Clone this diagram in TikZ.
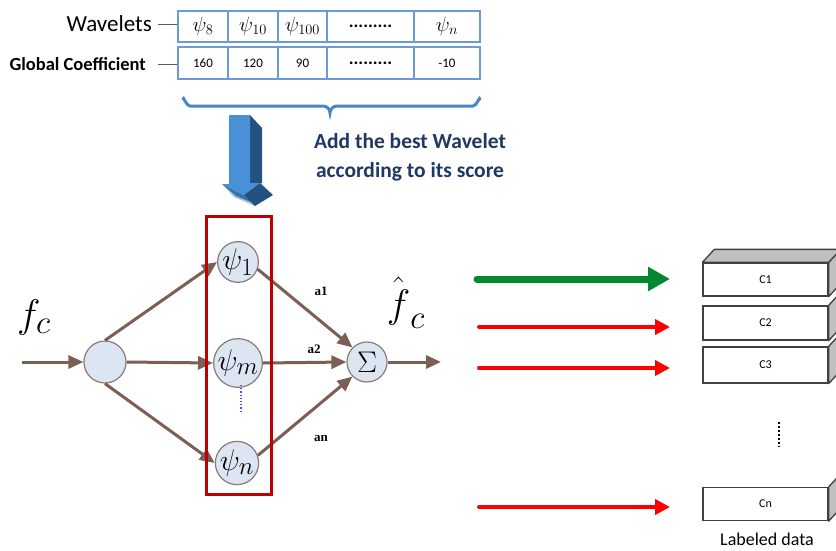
\documentclass[tikz,border=0pt]{standalone}
\usepackage{graphicx}
\usepackage{fontspec}
\setmainfont{Carlito}
\newfontfamily\serifface{Liberation Serif}
\usetikzlibrary{arrows.meta,calc}

\definecolor{cellblue}{HTML}{6A9BD8}
\definecolor{bracecol}{HTML}{4A86C5}
\definecolor{navy}{HTML}{1F3864}
\definecolor{linkbrown}{HTML}{7B5F55}
\definecolor{nodefill}{HTML}{DCE6F2}
\definecolor{nodeedge}{HTML}{8C7A76}
\definecolor{framered}{HTML}{C00000}
\definecolor{greenarrow}{HTML}{00892F}
\definecolor{redarrow}{HTML}{FF0000}
\definecolor{facegray}{HTML}{C0C0C0}
\definecolor{edgegray}{HTML}{404040}
\definecolor{arrowfront}{HTML}{4A90D6}
\definecolor{arrowside}{HTML}{24527E}
\definecolor{arrowlight}{HTML}{9CC4EC}

% enlarged math symbol inside a circle
\newcommand{\bigsym}[1]{\scalebox{1.2}{$#1$}}

\tikzset{
  cell/.style={draw=cellblue, line width=1.3pt, inner sep=0pt, anchor=center},
  rowone/.style={cell, minimum height=31pt, font=\fontsize{20.74}{22}\selectfont},
  rowtwo/.style={cell, minimum height=32pt, font=\fontsize{13}{15}\selectfont},
  rowlabel/.style={anchor=east, inner sep=0pt},
  neuron/.style={circle, fill=nodefill, draw=nodeedge, line width=1.2pt,
    minimum size=40pt, inner sep=0pt, font=\fontsize{24.88}{28}\selectfont},
  link/.style={draw=linkbrown, line width=3pt,
    -{Triangle[length=15pt,width=13pt]}},
  weight/.style={font=\serifface\bfseries\fontsize{13}{14}\selectfont, inner sep=0pt},
  databox/.style={draw=edgegray, line width=1.3pt, fill=white,
    minimum width=125pt, minimum height=33pt, inner sep=0pt,
    font=\fontsize{12}{14}\selectfont},
  sideface/.style={fill=facegray, draw=edgegray, line width=1.3pt, line join=round},
  goodarrow/.style={draw=greenarrow, line width=7pt, line cap=round,
    -{Triangle[length=22pt,width=23pt]}},
  badarrow/.style={draw=redarrow, line width=4pt, line cap=round,
    -{Triangle[length=15pt,width=15pt]}},
  bigmath/.style={font=\fontsize{24.88}{28}\selectfont, scale=1.6, inner sep=0pt},
}

\begin{document}
\begin{tikzpicture}[x=1pt,y=-1pt]
\useasboundingbox (0,0) rectangle (836,550);
\clip (0,0) rectangle (836,550);
\fill[white] (0,0) rectangle (836,550);

% ---- wavelet table ----
\node[rowone, minimum width=50pt] (w1) at (203,26.5) {$\psi_{8}$};
\node[rowone, minimum width=50pt] (w2) at (253,26.5) {$\psi_{10}$};
\node[rowone, minimum width=49pt] (w3) at (302.5,26.5) {$\psi_{100}$};
\node[rowone, minimum width=87pt] (w4) at (370.5,26.5) {\fontsize{18}{20}\selectfont\bfseries .........};
\node[rowone, minimum width=66pt] (w5) at (447,26.5) {$\psi_{n}$};

\node[rowtwo, minimum width=50pt] (g1) at (203,63) {160};
\node[rowtwo, minimum width=50pt] (g2) at (253,63) {120};
\node[rowtwo, minimum width=49pt] (g3) at (302.5,63) {90};
\node[rowtwo, minimum width=87pt] (g4) at (370.5,63) {\fontsize{18}{20}\selectfont\bfseries .........};
\node[rowtwo, minimum width=66pt] (g5) at (447,63) {-10};

\node[rowlabel, font=\fontsize{23}{25}\selectfont] (wl) at (152,24) {Wavelets};
\node[rowlabel, font=\bfseries\fontsize{18.5}{20}\selectfont] (gl) at (146,64) {Global Coefficient};
\draw[gray!70!black, line width=1pt] ($(wl.east)+(6,0)$) -- (w1.west |- wl.east);
\draw[gray!70!black, line width=1pt] ($(gl.east)+(12,0)$) -- (g1.west |- gl.east);

% ---- brace under the table ----
\draw[bracecol, line width=3pt, line cap=round]
  (183,99) to[out=90,in=180] (190,106) -- (323,106)
  to[out=0,in=90] (330,113) to[out=90,in=180] (337,106)
  -- (473,106) to[out=0,in=90] (480,99);

% ---- 3D block arrow ----
\fill[arrowside] (250,115) -- (262,128) -- (262,183) -- (250,183) -- cycle;
\fill[arrowfront] (229,115) -- (250,115) -- (250,183) -- (260,183)
  -- (244,195) -- (222,184) -- (229,184) -- cycle;
\fill[arrowlight] (222,184) -- (244,195) -- (255,206) -- (234,197) -- cycle;
\fill[arrowfront!80!black] (222,184) -- (244,195) -- (253,203) -- (236,196) -- cycle;
\fill[arrowside] (244,195) -- (260,183) -- (273,195) -- (255,206) -- cycle;

\node[font=\bfseries\fontsize{21.5}{29}\selectfont, text=navy, align=center]
  (caption) at (410,157) {Add the best Wavelet\\according to its score};

% ---- wavelet network ----
\coordinate (fin) at (22,362);
\coordinate (fout) at (441,362);
\node[neuron, minimum size=42pt] (inp) at (105,362) {};
\node[neuron] (p1) at (238,262) {\bigsym{\psi_{1}}};
\node[neuron] (pm) at (238,363) {\bigsym{\psi_{m}}};
\node[neuron] (pn) at (237,463) {\bigsym{\psi_{n}}};
\node[neuron] (sig) at (367,362) {\bigsym{\Sigma}};

\draw[link] (fin) -- (inp.west);
\draw[link] (inp.north) -- (p1.west);
\draw[link] (inp.east) -- (pm.west);
\draw[link] (inp.south) -- (pn.west);
\draw[link] (p1.-20) -- (sig.135);
\draw[link] (pm.east) -- (sig.west);
\draw[link] (pn.20) -- (sig.-135);
\draw[link] (sig.east) -- (fout);

\node[weight] (a1) at (321,291) {a1};
\node[weight] (a2) at (314,349) {a2};
\node[weight] (an) at (321,438) {an};

\node[bigmath] (fc) at (34,318) {$f_c$};
\node[bigmath] (fhat) at (406,303) {$\hat{\vphantom{\big|}f}_c$};

\coordinate (dtop) at (241,385);
\coordinate (dbot) at (241,412);
\draw[blue!70, line width=1.2pt, dotted] (dtop) -- (dbot);

\draw[framered, line width=3pt] (206,216) rectangle (271,494);

% ---- labeled data stack ----
\node[databox] (cn) at (765.5,504) {Cn};
\draw[sideface] (cn.north east) -- ++(12,-13) -- ($(cn.south east)+(12,-13)$) -- (cn.south east) -- cycle;
\node[databox, minimum height=36pt] (c3) at (765.5,365) {C3};
\draw[sideface] (c3.north east) -- ++(12,-13) -- ($(c3.south east)+(12,-13)$) -- (c3.south east) -- cycle;
\node[databox, minimum height=34pt] (c2) at (765.5,323) {C2};
\draw[sideface] (c2.north east) -- ++(12,-13) -- ($(c2.south east)+(12,-13)$) -- (c2.south east) -- cycle;
\node[databox] (c1) at (765.5,279.5) {C1};
\draw[sideface] (c1.north east) -- ++(12,-13) -- ($(c1.south east)+(12,-13)$) -- (c1.south east) -- cycle;
\draw[sideface] (c1.north west) -- ++(12,-13) -- ($(c1.north east)+(12,-13)$) -- (c1.north east) -- cycle;

\coordinate (vd1) at (779,422);
\coordinate (vd2) at (779,447);
\draw[black, line width=2pt, dotted] (vd1) -- (vd2);

\node[font=\fontsize{18}{20}\selectfont] (ld) at (767,539) {Labeled data};

% ---- classification arrows ----
\coordinate (s1) at (477,279);
\coordinate (e1) at (670,279);
\coordinate (s2) at (479,327);
\coordinate (e2) at (670,327);
\coordinate (s3) at (479,368);
\coordinate (e3) at (670,368);
\coordinate (s4) at (479,507);
\coordinate (e4) at (670,507);
\draw[goodarrow] (s1) -- (e1);
\draw[badarrow] (s2) -- (e2);
\draw[badarrow] (s3) -- (e3);
\draw[badarrow] (s4) -- (e4);
\end{tikzpicture}
\end{document}
